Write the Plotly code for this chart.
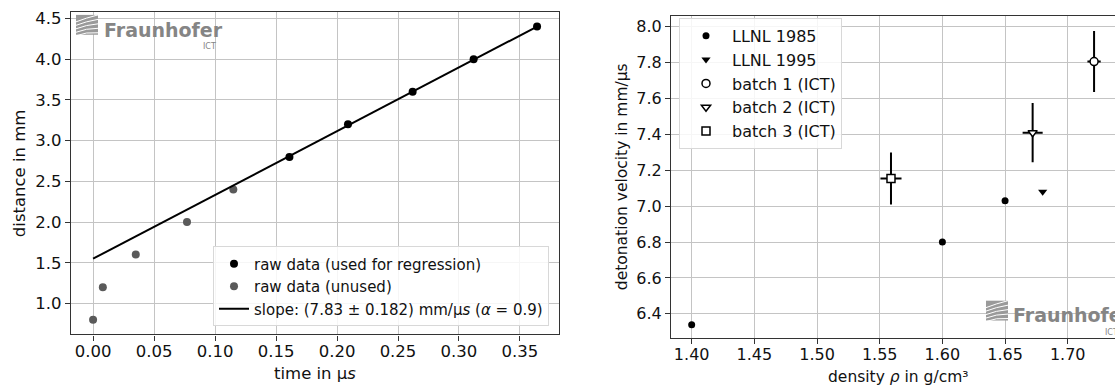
import plotly.graph_objects as go

W, H = 1115, 388

# ---------------- data (left: distance vs time) ----------------
used_t = [0.161, 0.209, 0.262, 0.312, 0.364]
used_d = [2.8, 3.2, 3.6, 4.0, 4.4]
unused_t = [0.0, 0.008, 0.035, 0.077, 0.115]
unused_d = [0.8, 1.2, 1.6, 2.0, 2.4]
fit_t = [0.0, 0.364]
fit_d = [1.55, 4.40]
left_xticks = [0.00, 0.05, 0.10, 0.15, 0.20, 0.25, 0.30, 0.35]
left_yticks = [1.0, 1.5, 2.0, 2.5, 3.0, 3.5, 4.0, 4.5]

# ---------------- data (right: velocity vs density) ----------------
llnl85_rho = [1.40, 1.60, 1.65]
llnl85_v = [6.34, 6.80, 7.03]
llnl95_rho = [1.68]
llnl95_v = [7.08]
batch_names = ["batch 1 (ICT)", "batch 2 (ICT)", "batch 3 (ICT)"]
batch_rho = [1.721, 1.672, 1.559]
batch_v = [7.806, 7.41, 7.155]
batch_v_err = [0.17, 0.165, 0.145]
batch_rho_err = [0.0053, 0.008, 0.0084]
batch_symbols = ["circle", "triangle-down", "square"]
right_xticks = [1.40, 1.45, 1.50, 1.55, 1.60, 1.65, 1.70]
right_yticks = [6.4, 6.6, 6.8, 7.0, 7.2, 7.4, 7.6, 7.8, 8.0]

FONT = "DejaVu Sans"
GRID = "#c4c4c4"
SPINE = "#333333"

fig = go.Figure()

# left panel
fig.add_trace(go.Scatter(x=used_t, y=used_d, mode="markers", name="raw data (used for regression)",
                         marker=dict(color="black", size=8), xaxis="x", yaxis="y", legend="legend"))
fig.add_trace(go.Scatter(x=unused_t, y=unused_d, mode="markers", name="raw data (unused)",
                         marker=dict(color="#5a5a5a", size=8), xaxis="x", yaxis="y", legend="legend"))
fig.add_trace(go.Scatter(x=fit_t, y=fit_d, mode="lines",
                         name="slope: (7.83 ± 0.182) mm/µ<i>s</i> (<i>α</i> = 0.9)",
                         line=dict(color="black", width=2), xaxis="x", yaxis="y", legend="legend"))

# right panel
fig.add_trace(go.Scatter(x=llnl85_rho, y=llnl85_v, mode="markers", name="LLNL 1985",
                         marker=dict(color="black", size=7), xaxis="x2", yaxis="y2", legend="legend2"))
fig.add_trace(go.Scatter(x=llnl95_rho, y=llnl95_v, mode="markers", name="LLNL 1995",
                         marker=dict(color="black", size=8, symbol="triangle-down"),
                         xaxis="x2", yaxis="y2", legend="legend2"))
for i in range(3):
    fig.add_trace(go.Scatter(
        x=[batch_rho[i]], y=[batch_v[i]], mode="markers", name=batch_names[i],
        marker=dict(color="white", size=8, symbol=batch_symbols[i], line=dict(color="black", width=1.5)),
        error_y=dict(type="data", array=[batch_v_err[i]], color="black", thickness=2, width=0),
        error_x=dict(type="data", array=[batch_rho_err[i]], color="black", thickness=2, width=0),
        xaxis="x2", yaxis="y2", legend="legend2"))

axis_common = dict(showgrid=True, gridcolor=GRID, gridwidth=1, showline=True, linecolor=SPINE,
                   linewidth=1.2, ticks="outside", ticklen=5, tickwidth=1, tickcolor=SPINE,
                   tickfont=dict(family=FONT, size=16.5, color="#111"), zeroline=False)

fig.update_layout(
    width=W, height=H, margin=dict(l=0, r=0, t=0, b=0),
    paper_bgcolor="white", plot_bgcolor="white",
    font=dict(family=FONT, color="#111"),
    xaxis=dict(axis_common, domain=[71 / W, 559 / W], range=[-0.0181, 0.382], mirror=True,
               tickvals=left_xticks, tickformat=".2f", anchor="y", ticklabelstandoff=-3),
    yaxis=dict(axis_common, domain=[1 - 334 / H, 1 - 9 / H], range=[0.62, 4.58], mirror=True,
               tickvals=left_yticks, tickformat=".1f", anchor="x"),
    xaxis2=dict(axis_common, domain=[671 / W, 1.0], range=[1.3835, 1.7377], mirror=True,
                tickvals=right_xticks, tickformat=".2f", anchor="y2", ticklabelstandoff=-3,
                tickfont=dict(family=FONT, size=16, color="#111")),
    yaxis2=dict(axis_common, domain=[1 - 337.7 / H, 1 - 13.3 / H], range=[6.265, 8.059], mirror=False,
                tickvals=right_yticks, tickformat=".1f", anchor="x2",
                tickfont=dict(family=FONT, size=16, color="#111")),
    legend=dict(x=549 / W, xanchor="right", y=1 - 326 / H, yanchor="bottom",
                bgcolor="rgba(255,255,255,0.85)", bordercolor="#d8d8d8", borderwidth=1,
                font=dict(family=FONT, size=15, color="#111"), tracegroupgap=3),
    legend2=dict(x=679 / W, xanchor="left", y=1 - 15 / H, yanchor="top", itemwidth=42,
                 bgcolor="rgba(255,255,255,0.85)", bordercolor="#d8d8d8", borderwidth=1,
                 font=dict(family=FONT, size=16, color="#111"), tracegroupgap=3.5),
)

ann = []
# axis titles
ann.append(dict(text="distance in mm", x=19 / W, y=1 - 171.5 / H, xref="paper", yref="paper",
                xanchor="center", yanchor="middle",
                textangle=-90, showarrow=False, font=dict(family=FONT, size=16.5, color="#111")))
ann.append(dict(text="time in µ<i>s</i>", x=315 / W, y=1 - 373 / H, xref="paper", yref="paper",
                xanchor="center", yanchor="middle",
                showarrow=False, font=dict(family=FONT, size=16.5, color="#111")))
ann.append(dict(text="detonation velocity in mm/µs", x=622 / W, y=1 - 175.5 / H, xref="paper", yref="paper",
                xanchor="center", yanchor="middle",
                textangle=-90, showarrow=False, font=dict(family=FONT, size=15.5, color="#111")))
ann.append(dict(text="density <i>ρ</i> in g/cm³", x=898 / W, y=1 - 377 / H, xref="paper", yref="paper",
                xanchor="center", yanchor="middle",
                showarrow=False, font=dict(family=FONT, size=15.5, color="#111")))

LOGO = "#858585"
shapes = []


def add_logo(x0, y0, tx, ty, ictx, icty):
    # icon: gray block with white stripes (pixel coords converted to paper)
    w, h = 22, 20
    shapes.append(dict(type="rect", xref="paper", yref="paper",
                       x0=x0 / W, x1=(x0 + w) / W, y0=1 - (y0 + h) / H, y1=1 - y0 / H,
                       fillcolor="#9a9a9a", line=dict(width=0), layer="above"))
    for k in range(5):
        yy = y0 + 4 + k * 3.5
        shapes.append(dict(type="path", xref="paper", yref="paper",
                           path=f"M {x0 / W},{1 - (yy + 3) / H} Q {(x0 + 10) / W},{1 - (yy - 1) / H} {(x0 + w) / W},{1 - (yy - 4 + k) / H}",
                           line=dict(color="white", width=1), layer="above"))
    ann.append(dict(text="<b>Fraunhofer</b>", x=tx / W, y=1 - ty / H, xref="paper", yref="paper",
                    xanchor="left", yanchor="middle", showarrow=False,
                    font=dict(family=FONT, size=19, color=LOGO)))
    ann.append(dict(text="ICT", x=ictx / W, y=1 - icty / H, xref="paper", yref="paper",
                    xanchor="left", yanchor="middle", showarrow=False,
                    font=dict(family=FONT, size=8, color=LOGO)))


add_logo(76, 12, 102, 27, 201, 44)
add_logo(986, 300, 1011, 314, 1103, 332)

fig.update_layout(annotations=ann, shapes=shapes)
fig.write_html("out.html", config={"displayModeBar": False},
               post_script="document.body.style.margin='0';document.body.style.overflow='hidden';")
